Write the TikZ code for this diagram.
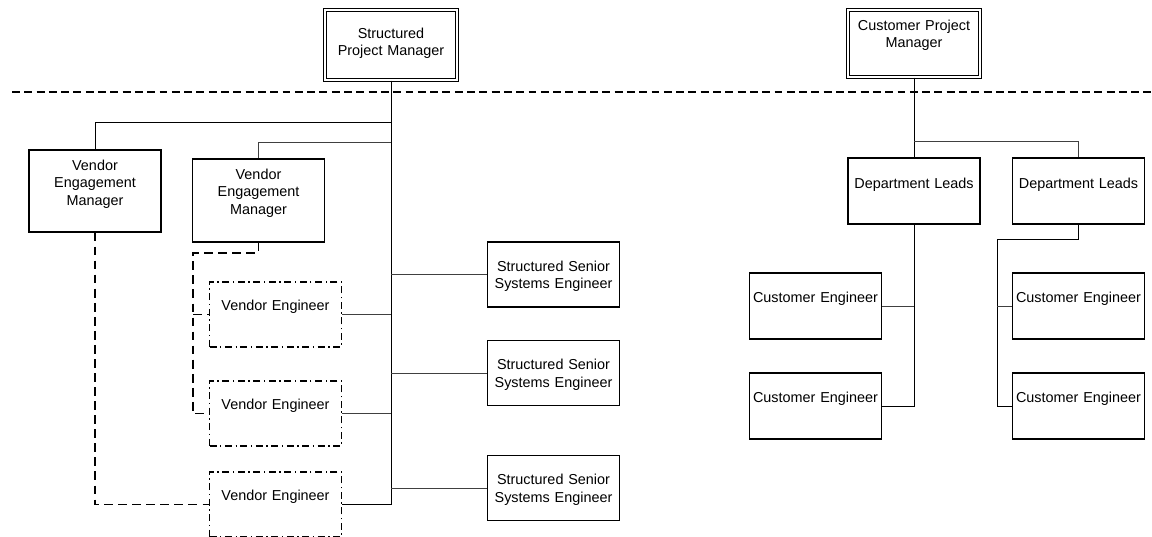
\documentclass[tikz,border=0pt]{standalone}
\usepackage{fontspec}
\newfontfamily\orgfont{Liberation Sans}
\usetikzlibrary{calc}

\begin{document}
\begin{tikzpicture}[
  x=0.02cm, y=-0.02cm,
  orgbox/.style={draw, line width=0.6pt, inner sep=0pt, text width=2.64cm,
    align=center, font=\orgfont\fontsize{8.2}{10}\selectfont},
  topgap/.style 2 args={text height=#1, text depth=#2},
  leadbox/.style={orgbox, double, double distance=0.9pt},
  vendorbox/.style={orgbox, line width=0.8pt,
    dash pattern=on 4pt off 2pt on 0.8pt off 2pt},
  link/.style={line width=0.5pt},
  faintlink/.style={line width=0.4pt, black!75},
  vendorlink/.style={line width=0.6pt, dash pattern=on 5pt off 3pt},
  divider/.style={line width=1pt, dash pattern=on 4.5pt off 2.5pt}
  ]
  \useasboundingbox (0,0) rectangle (1152,537);

  % project managers and the dividing line
  \node[leadbox, topgap={0.56cm}{0.84cm}] (spm) at (391,45) {Structured\\Project Manager};
  \node[leadbox, topgap={0.40cm}{0.94cm}] (cpm) at (914,43.5) {Customer Project\\Manager};
  \coordinate (sepL) at (12,92);
  \coordinate (sepR) at (1152,92);
  \draw[divider] (sepL) -- (sepR);

  % structured side
  \tikzset{every node/.append style={orgbox}}
  \node[topgap={0.40cm}{1.24cm}] (vem1) at (95,191) {Vendor\\Engagement\\Manager};
  \node[topgap={0.40cm}{1.26cm}] (vem2) at (258.5,200.5) {Vendor\\Engagement\\Manager};
  \node[vendorbox, topgap={0.56cm}{0.74cm}] (ve1) at (275.5,314.5) {Vendor Engineer};
  \node[vendorbox, topgap={0.56cm}{0.74cm}] (ve2) at (275.5,413.5) {Vendor Engineer};
  \node[vendorbox, topgap={0.56cm}{0.74cm}] (ve3) at (275.5,504.5) {Vendor Engineer};
  \node[topgap={0.58cm}{0.72cm}] (ssse1) at (553.5,274.5) {Structured Senior\\Systems Engineer};
  \node[topgap={0.58cm}{0.72cm}] (ssse2) at (553.5,373) {Structured Senior\\Systems Engineer};
  \node[topgap={0.58cm}{0.72cm}] (ssse3) at (553.5,488) {Structured Senior\\Systems Engineer};

  % customer side
  \node[topgap={0.60cm}{0.72cm}] (dl1) at (914,191) {Department Leads};
  \node[topgap={0.60cm}{0.72cm}] (dl2) at (1078.5,191) {Department Leads};
  \node[topgap={0.58cm}{0.74cm}] (ce1) at (815.5,306) {Customer Engineer};
  \node[topgap={0.58cm}{0.74cm}] (ce2) at (815.5,406) {Customer Engineer};
  \node[topgap={0.58cm}{0.74cm}] (ce3) at (1078.5,306) {Customer Engineer};
  \node[topgap={0.58cm}{0.74cm}] (ce4) at (1078.5,406) {Customer Engineer};

  \coordinate (vemtap) at (391,122);
  \coordinate (vem2tap) at (391,142);
  \coordinate (vemleg) at (193,253);
  \coordinate (dltap) at (914,141);
  \coordinate (dl2leg) at (997,239);

  \draw[link] (spm.south) |- (ve3.east);
  \draw[link] (vemtap) -| (vem1.north);
  \draw[faintlink] (vem2tap) -| (vem2.north);
  \draw[faintlink] (ve1.east) -- (ve1.east -| spm.south);
  \draw[faintlink] (ve2.east) -- (ve2.east -| spm.south);
  \foreach \s in {ssse1,ssse2,ssse3}
    \draw[faintlink] (\s.west) -- (\s.west -| spm.south);
  \draw[vendorlink] (vem1.south) |- (ve3.west);
  \draw[vendorlink] (vem2.south) |- (vemleg) |- (ve2.west);
  \draw[vendorlink] (vemleg |- ve1.west) -- (ve1.west);

  \draw[link] (cpm.south) -- (dl1.north);
  \draw[faintlink] (dltap) -| (dl2.north);
  \draw[link] (dl1.south) |- (ce2.east);
  \draw[faintlink] (ce1.east) -- (ce1.east -| dl1.south);
  \draw[link] (dl2.south) |- (dl2leg) |- (ce4.west);
  \draw[faintlink] (dl2leg |- ce3.west) -- (ce3.west);
\end{tikzpicture}
\end{document}
